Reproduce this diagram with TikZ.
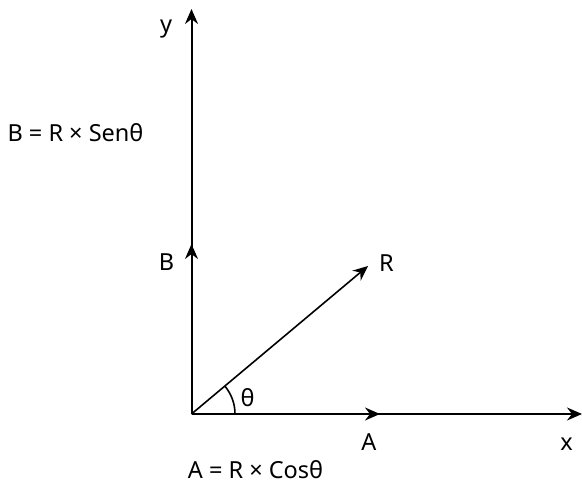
\documentclass[tikz,border=0pt]{standalone}
\usepackage{fontspec}
\setmainfont{Noto Sans}
\usetikzlibrary{arrows.meta}
\tikzset{
  vec/.style={line width=2pt, -{Stealth[length=15pt,width=13pt,inset=5pt]}},
  lbl/.style={anchor=base, inner sep=0pt, font=\fontsize{23.5}{27}\selectfont},
}
\begin{document}
\begin{tikzpicture}[x=1pt,y=-1pt]
\useasboundingbox (0,0) rectangle (582,485);
\coordinate (O) at (191.5,414);
\coordinate (Xend) at (582,414);
\coordinate (Yend) at (191.5,9);
\coordinate (Aend) at (380,414);
\coordinate (Bend) at (191.5,244);
\coordinate (Rend) at (368,266);
\draw[vec] (O) -- (Xend);
\draw[vec] (O) -- (Yend);
\draw[vec] (O) -- (Aend);
\draw[vec] (O) -- (Bend);
\draw[vec, line width=1.6pt] (O) -- (Rend);
\draw[line width=1.6pt] ([xshift=43.5pt]O) arc[start angle=0, end angle=39.97, radius=43.5pt];
\node[lbl] (ylab) at (166,32) {y};
\node[lbl] (xlab) at (566.5,450) {x};
\node[lbl] (alab) at (369,450) {A};
\node[lbl] (blab) at (166.5,270) {B};
\node[lbl] (rlab) at (386.5,271) {R};
\node[lbl] (th) at (247.5,406.5) {θ};
\node[lbl] (beq) at (75.5,141) {B = R × Senθ};
\node[lbl] (aeq) at (255.5,478) {A = R × Cosθ};
\end{tikzpicture}
\end{document}
